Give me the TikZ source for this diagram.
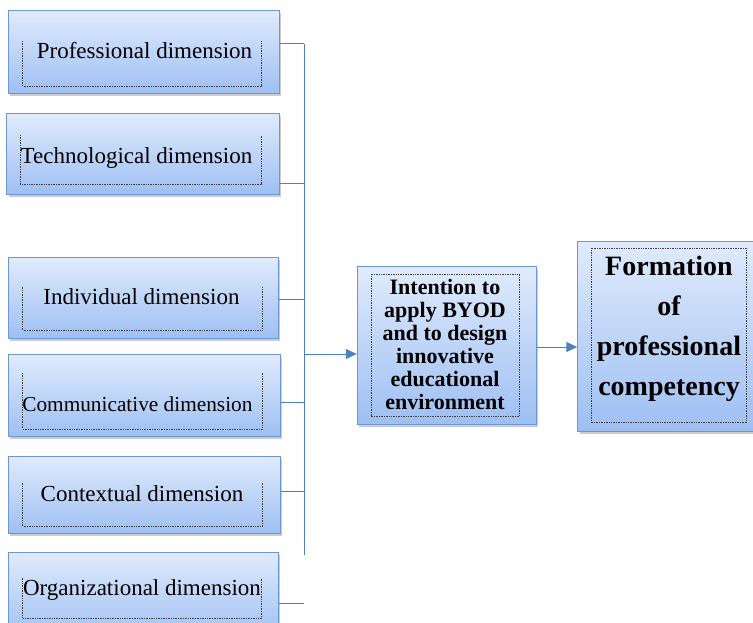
\documentclass[tikz,border=0pt]{standalone}
\usepackage{fontspec}
\setmainfont{Liberation Serif}
\usetikzlibrary{shadows,arrows.meta}
\definecolor{boxtop}{RGB}{224,235,252}
\definecolor{boxbot}{RGB}{158,191,243}
\definecolor{boxline}{RGB}{108,150,212}
\definecolor{linkblue}{RGB}{79,129,189}

\begin{document}
\begin{tikzpicture}[x=1pt,y=-1pt,
    dimbox/.style={draw=boxline, line width=1pt, top color=boxtop, bottom color=boxbot,
      drop shadow={shadow xshift=2pt,shadow yshift=-2.5pt,opacity=0.4}, inner sep=0pt},
    inframe/.style={densely dotted, line width=0.7pt, black!75},
    dimtext/.style={anchor=base, inner sep=0pt, font=\fontsize{23}{27}\selectfont},
    midtext/.style={inner sep=0pt, align=center, font=\bfseries\fontsize{22}{23}\selectfont},
    formtext/.style={inner sep=0pt, align=center, font=\bfseries\fontsize{28}{40}\selectfont},
    link/.style={draw=linkblue, line width=1pt},
    linkarrow/.style={link, -{Triangle[length=11pt,width=10pt]}}]
    \useasboundingbox (0,0) rectangle (753,623);

    \node[dimbox, minimum width=270.7pt, minimum height=82.6pt] (prof) at (143.7,52) {};
    \node[dimbox, minimum width=272.3pt, minimum height=81pt] (tech) at (142.9,153.8) {};
    \node[dimbox, minimum width=270pt, minimum height=81pt] (indiv) at (143.3,297.8) {};
    \node[dimbox, minimum width=271.7pt, minimum height=81.7pt] (comm) at (144.2,395.8) {};
    \node[dimbox, minimum width=271.7pt, minimum height=77.3pt] (cont) at (144.2,494.7) {};
    \node[dimbox, minimum width=270pt, minimum height=88pt] (org) at (143.3,596) {};
    \node[dimbox, minimum width=178.7pt, minimum height=158pt] (mid) at (446.7,345) {};
    \node[dimbox, minimum width=175.3pt, minimum height=190pt] (form) at (665.4,336) {};

    \draw[inframe] (22.7,41) -- (22.7,86) -- (261.7,86) -- (261.7,41);
    \draw[inframe] (20,135) -- (20,184) -- (261.7,184) -- (261.7,135);
    \draw[inframe] (22.7,286.7) -- (22.7,330) -- (262,330) -- (262,286.7);
    \draw[inframe] (22.7,373) -- (22.7,429) -- (262.7,429) -- (262.7,373);
    \draw[inframe] (22.7,482.7) -- (22.7,526) -- (262.7,526) -- (262.7,482.7);
    \draw[inframe] (22.7,577.7) -- (22.7,618) -- (261.7,618) -- (261.7,577.7);
    \draw[inframe] (371,274.3) rectangle (519.3,416);
    \draw[inframe] (591,248.3) rectangle (746.7,422.3);

    \node[dimtext] (proft) at (144.5,59) {Professional dimension};
    \node[dimtext] (techt) at (136.5,164) {Technological dimension};
    \node[dimtext] (indivt) at (141.5,304) {Individual dimension};
    \node[dimtext, font=\fontsize{21.3}{25}\selectfont] (commt) at (137.4,411) {Communicative dimension};
    \node[dimtext] (contt) at (142,501) {Contextual dimension};
    \node[dimtext] (orgt) at (142,595) {Organizational dimension};
    \node[midtext] (midt) at (445,344) {Intention to\\apply BYOD\\and to design\\innovative\\educational\\environment};
    \node[formtext] (formt) at (669,329) {Formation\\of\\professional\\competency};

    \coordinate (j1) at (304,44);
    \coordinate (j2) at (304,184);
    \coordinate (j3) at (304,299);
    \coordinate (j4) at (304,402);
    \coordinate (j5) at (304,491);
    \coordinate (j6) at (304,603);
    \coordinate (jm) at (304,354);
    \coordinate (jend) at (304,555);

    \draw[link] (j1) -- (jend);
    \draw[link] (prof.east |- j1) -- (j1);
    \draw[link] (tech.east |- j2) -- (j2);
    \draw[link] (indiv.east |- j3) -- (j3);
    \draw[link] (comm.east |- j4) -- (j4);
    \draw[link] (cont.east |- j5) -- (j5);
    \draw[link] (org.east |- j6) -- (j6);
    \draw[linkarrow] (jm) -- (jm -| mid.west);
    \draw[linkarrow] ([yshift=-2pt]mid.east) -- ([yshift=-2pt]mid.east -| form.west);
\end{tikzpicture}
\end{document}
